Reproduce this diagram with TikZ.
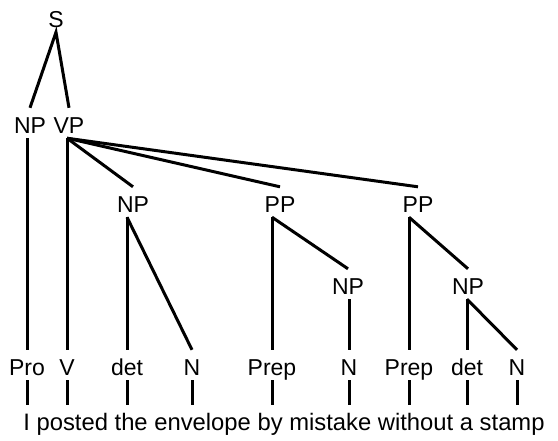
\documentclass[tikz,border=0pt]{standalone}
\usepackage{fontspec}
\setmainfont{Liberation Sans}
\tikzset{cat/.style={anchor=base,inner xsep=0pt,inner ysep=5pt,text height=20pt,text depth=0pt,font=\fontsize{23}{27}\selectfont},
         branch/.style={line width=3pt}}
\begin{document}
\begin{tikzpicture}[x=1pt,y=-1pt]
                \useasboundingbox (0,0) rectangle (558,440);
                \node[cat] (s) at (56,27) {S};
                \node[cat] (np) at (30,133) {NP};
                \node[cat] (vp) at (69,133) {VP};
                \node[cat] (npo) at (133,212) {NP};
                \node[cat] (ppa) at (280,212) {PP};
                \node[cat] (ppb) at (418,212) {PP};
                \node[cat] (npa) at (348,294) {NP};
                \node[cat] (npb) at (468,294) {NP};
                \node[cat] (pro) at (27,375) {Pro};
                \node[cat] (v) at (67,375) {V};
                \node[cat] (deta) at (127,375) {det};
                \node[cat] (na) at (192,375) {N};
                \node[cat] (prepa) at (272,375) {Prep};
                \node[cat] (nb) at (349,375) {N};
                \node[cat] (prepb) at (409,375) {Prep};
                \node[cat] (detb) at (467,375) {det};
                \node[cat] (nc) at (517,375) {N};
                \node[cat,font=\fontsize{23.8}{28}\selectfont] (sent) at (284,430) {I posted the envelope by mistake without a stamp};
                \draw[branch] (np.north) -- (s.south) -- (vp.north);
                \draw[branch] (np.south -| pro) -- (pro.north);
                \draw[branch] (vp.south -| v) -- (v.north);
                \draw[branch] (vp.south -| v) -- (npo.north);
                \draw[branch] (vp.south -| v) -- (ppa.north);
                \draw[branch] (vp.south -| v) -- (ppb.north);
                \draw[branch] (npo.south -| deta) -- (deta.north);
                \draw[branch] (npo.south -| deta) -- (na.north);
                \draw[branch] (ppa.south -| prepa) -- (prepa.north);
                \draw[branch] (ppa.south -| prepa) -- (npa.north);
                \draw[branch] (npa.south -| nb) -- (nb.north);
                \draw[branch] (ppb.south -| prepb) -- (prepb.north);
                \draw[branch] (ppb.south -| prepb) -- (npb.north);
                \draw[branch] (npb.south -| detb) -- (detb.north);
                \draw[branch] (npb.south -| detb) -- (nc.north);
                \foreach \w in {pro,v,deta,na,prepa,nb,prepb,detb,nc}
                    \draw[branch] (\w.south) -- (\w.south |- sent.north);
            \end{tikzpicture}
\end{document}
